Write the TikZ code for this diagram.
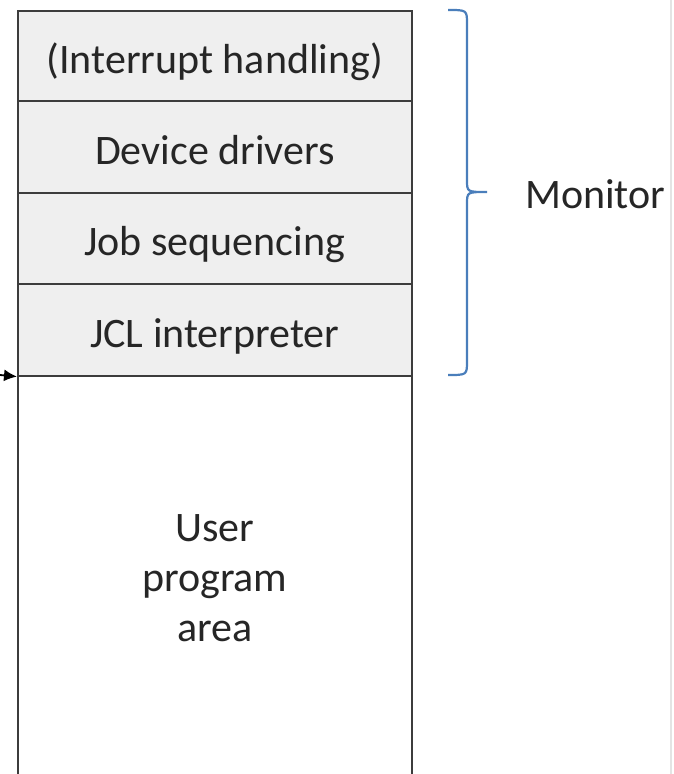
\documentclass[tikz,border=0pt]{standalone}
\usepackage{fontspec}
\setmainfont{Carlito}
\usetikzlibrary{arrows.meta}
\definecolor{rowfill}{HTML}{EFEFEF}
\definecolor{rule}{HTML}{3C3C3C}
\definecolor{bracecol}{HTML}{4A7EBB}
\definecolor{edge}{HTML}{E4E4E4}
\tikzset{
  layer/.style={draw=rule, line width=1.6pt, fill=rowfill, minimum width=394pt,
    inner sep=0pt, anchor=north west, text height=35pt, text depth=0pt,
    font=\fontsize{42}{50}\selectfont, text=black!85},
  userbox/.style={draw=rule, line width=1.6pt, fill=white, minimum width=394pt,
    inner sep=0pt, anchor=north west, align=center,
    font=\fontsize{42}{50}\selectfont, text=black!85},
  bracestyle/.style={draw=bracecol, line width=2.2pt},
  label/.style={font=\fontsize{42}{50}\selectfont, text=black!85, anchor=west, inner sep=0pt}
}
\begin{document}
\begin{tikzpicture}[x=1pt,y=-1pt]
  \useasboundingbox (0,0) rectangle (673,774);
  % faint page edge on the right
  \draw[edge, line width=2pt] (671,0) -- (671,774);
  % memory layout: monitor layers stacked above the user area
  \node[userbox, minimum height=404pt] (user) at (17,375) {User\\program\\area};
  \node[layer, minimum height=90pt] (n1) at (17,10) {(Interrupt handling)};
  \node[layer, minimum height=92pt] (n2) at (17,100) {Device drivers};
  \node[layer, minimum height=91pt] (n3) at (17,192) {Job sequencing};
  \node[layer, minimum height=92pt] (n4) at (17,283) {JCL interpreter};
  % entry arrow at the monitor / user boundary
  \coordinate (entry) at (0,375);
  \draw[-{Latex[length=13pt,width=12pt]}, line width=1.8pt] (entry) -- (n4.south west);
  % brace spanning the monitor layers
  \coordinate (btop) at (448,10);
  \coordinate (bbot) at (448,375);
  \coordinate (btip) at (487,192);
  \draw[bracestyle] (btop) .. controls (467,10) .. (467,24) -- (467,180)
    .. controls (467,192) .. (btip)
    .. controls (467,192) .. (467,204) -- (467,361)
    .. controls (467,375) .. (bbot);
  \node[label] (mon) at (525,194) {Monitor};
\end{tikzpicture}
\end{document}
